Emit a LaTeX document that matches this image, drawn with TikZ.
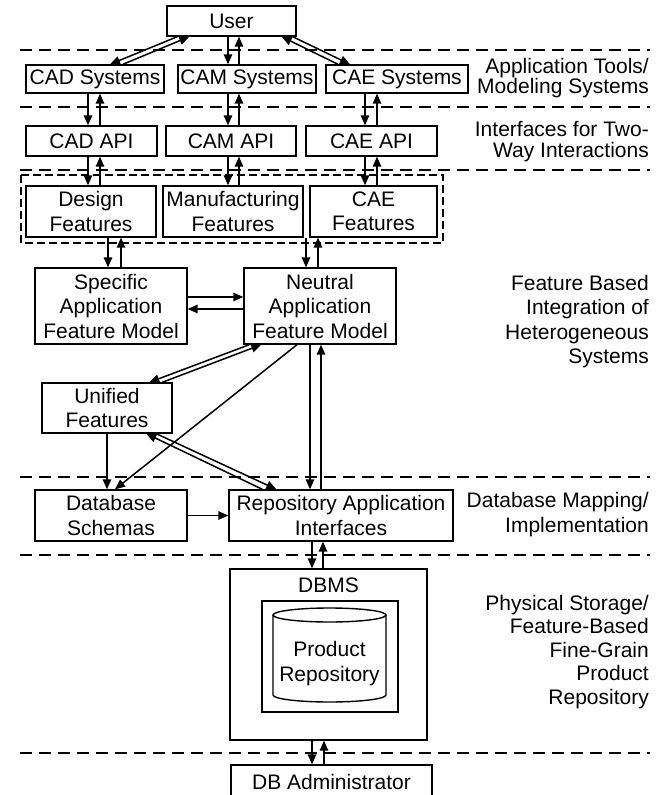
\documentclass[tikz,border=0pt]{standalone}
\usepackage{fontspec}
\setmainfont{Liberation Sans}
\usetikzlibrary{arrows.meta}

\tikzset{
  box/.style={draw, line width=1.4pt, inner sep=0pt, align=center},
  flow/.style={line width=1.5pt, -{Triangle[length=10pt,width=8.5pt]}},
  layer/.style={line width=1.4pt, dash pattern=on 12pt off 7pt},
  tag/.style={anchor=east, align=right, inner sep=0pt},
  tight/.style={font=\fontsize{21}{20.5}\selectfont}
}

\begin{document}
\begin{tikzpicture}[x=1pt,y=-1pt,font=\fontsize{21}{24.5}\selectfont]
  \path[use as bounding box,fill=white] (0,0) rectangle (664,795);
  % layers
  \foreach \y in {50,107,170,477,555,753} {
    \draw[layer] (20,\y) -- (650,\y);
  };
  \draw[line width=1.4pt,dash pattern=on 8pt off 4pt] (21,175) rectangle (443,243);

  % boxes
  \node[box,minimum width=129,minimum height=30] (user) at (231.5,21) {User};
  \node[box,minimum width=138,minimum height=28] (cadsys) at (95,79) {CAD Systems};
  \node[box,minimum width=138,minimum height=28] (camsys) at (247,79) {CAM Systems};
  \node[box,minimum width=142,minimum height=28] (caesys) at (397,79) {CAE Systems};
  \node[box,minimum width=131,minimum height=30] (cadapi) at (91.5,141) {CAD API};
  \node[box,minimum width=130,minimum height=30] (camapi) at (231,141) {CAM API};
  \node[box,minimum width=131,minimum height=30] (caeapi) at (371.5,141) {CAE API};
  \node[box,minimum width=130,minimum height=51] (desfeat) at (91,211.5) {Design\\Features};
  \node[box,minimum width=140,minimum height=51] (manfeat) at (233,211.5) {Manufacturing\\Features};
  \node[box,minimum width=127,minimum height=51] (caefeat) at (373.5,211.5) {CAE\\Features};
  \node[box,minimum width=152,minimum height=76] (specific) at (111,306) {Specific\\Application\\Feature Model};
  \node[box,minimum width=152,minimum height=76] (neutral) at (320,306) {Neutral\\Application\\Feature Model};
  \node[box,minimum width=130,minimum height=50] (unified) at (107,408) {Unified\\Features};
  \node[box,minimum width=152,minimum height=51] (dbschema) at (111,515.5) {Database\\Schemas};
  \node[box,minimum width=224,minimum height=51] (repapi) at (341,515.5) {Repository Application\\Interfaces};
  \node[box,minimum width=197,minimum height=171] (dbms) at (328.5,654.5) {};
  \node (dbmstitle) at (328.5,585) {DBMS};
  \node[box,minimum width=136,minimum height=111] (dbinner) at (330,656.5) {};
  \node[box,minimum width=201,minimum height=33] (dbadmin) at (331.5,781.5) {DB Administrator};

  % repository drum
  \draw[line width=1.4pt] (273,615) -- (273,695) arc[start angle=180,end angle=0,x radius=56.5,y radius=7] -- (386,615);
  \draw[line width=1.4pt] (329.5,615) ellipse [x radius=56.5,y radius=7];
  \node[align=center] (prodrepo) at (329.5,663.5) {Product\\Repository};

  % layer names
  \node[tag,tight] (tools) at (649,78) {Application Tools/\\Modeling Systems};
  \node[tag,tight] (ifaces) at (649,141.5) {Interfaces for Two-\\Way Interactions};
  \node[tag] (integ) at (649,321.5) {Feature Based\\Integration of\\Heterogeneous\\Systems};
  \node[tag] (mapping) at (649,514.5) {Database Mapping/\\Implementation};
  \node[tag,font=\fontsize{21}{23.5}\selectfont] (storage) at (649,652) {Physical Storage/\\Feature-Based\\Fine-Grain\\Product\\Repository};

  % two-way links
  \foreach \a/\b/\d/\u in {user/camsys/-3.5/7.5, cadsys/cadapi/-7/5, camsys/camapi/-19/-8, caesys/caeapi/-32/-20,
                           cadapi/desfeat/-3.5/8.5, camapi/manfeat/-3/8, caeapi/caefeat/-6.5/5.5,
                           desfeat/specific/17/30, caefeat/neutral/-67.5/-55.5, neutral/repapi/-10/1,
                           repapi/dbms/-29/-18, dbms/dbadmin/-16.5/-4.5} {
    \draw[flow] ([xshift=\d pt]\a.south) -- ([xshift=\d pt]\a.south |- \b.north);
    \draw[flow] ([xshift=\u pt]\a.south |- \b.north) -- ([xshift=\u pt]\a.south);
  };
  \draw[flow] ([xshift=11pt]user.south west) -- ([xshift=15pt]cadsys.north);
  \draw[flow] ([xshift=28pt]cadsys.north) -- ([xshift=23pt]user.south west);
  \draw[flow] ([xshift=-59pt]caesys.north) -- ([xshift=-15pt]user.south east);
  \draw[flow] ([xshift=-4pt]user.south east) -- ([xshift=-47pt]caesys.north);
  \draw[flow] ([yshift=9pt]specific.east) -- ([yshift=9pt]specific.east -| neutral.west);
  \draw[flow] ([yshift=-3pt]specific.east -| neutral.west) -- ([yshift=-3pt]specific.east);
  \draw[flow] ([xshift=6pt]neutral.south west) -- ([xshift=108pt]unified.north west);
  \draw[flow] ([xshift=121pt]unified.north west) -- ([xshift=18pt]neutral.south west);
  \draw[flow] ([xshift=-23pt]neutral.south) -- ([xshift=4pt]dbschema.north);
  \draw[flow] (unified.south) -- (unified.south |- dbschema.north);
  \draw[flow] ([xshift=34pt]repapi.north west) -- ([xshift=105pt]unified.south west);
  \draw[flow] ([xshift=115pt]unified.south west) -- ([xshift=48pt]repapi.north west);
  \draw[flow] (dbschema.east) -- (dbschema.east -| repapi.west);
\end{tikzpicture}
\end{document}
